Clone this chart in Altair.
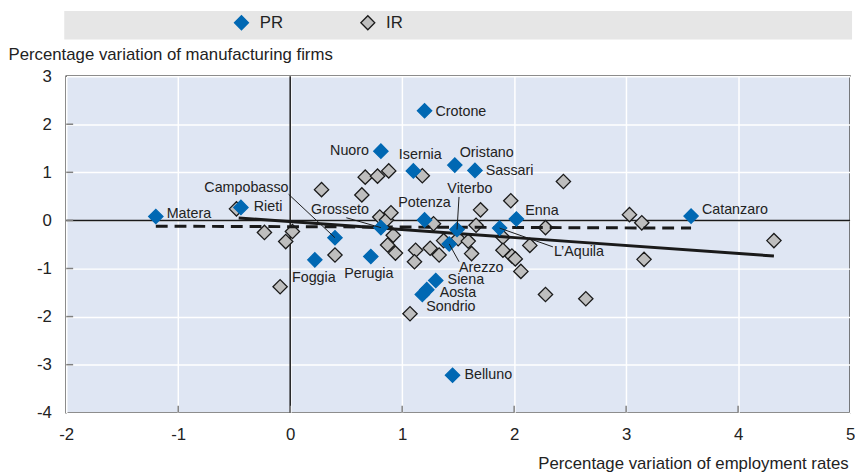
import altair as alt
import pandas as pd

# ---------------- data ----------------
pr_names = ["Matera", "Rieti", "Crotone", "Nuoro", "Isernia", "Oristano", "Sassari",
            "Potenza", "Viterbo", "Enna", "Catanzaro", "L’Aquila", "Arezzo", "Grosseto",
            "Campobasso", "Foggia", "Perugia", "Siena", "Aosta", "Sondrio", "Belluno"]
pr_x = [-1.20, -0.44, 1.20, 0.81, 1.10, 1.47, 1.65, 1.20, 1.49, 2.02, 3.58, 1.87, 1.42,
        0.81, 0.40, 0.22, 0.72, 1.30, 1.22, 1.18, 1.45]
pr_y = [0.08, 0.27, 2.28, 1.44, 1.03, 1.15, 1.04, 0.01, -0.19, 0.03, 0.09, -0.16, -0.49,
        -0.15, -0.36, -0.82, -0.75, -1.25, -1.44, -1.54, -3.22]

ir_x = [-0.48, 0.28, -0.23, 0.02, -0.04, 0.40, -0.09, 0.67, 0.78, 0.88, 0.64, 0.80, 0.86,
        0.90, 0.92, 0.87, 0.94, 1.18, 1.28, 1.12, 1.11, 1.25, 1.33, 1.37, 1.50, 1.70, 1.66,
        1.59, 1.62, 1.97, 1.90, 1.90, 1.98, 2.01, 2.06, 2.14, 2.28, 2.44, 2.28, 2.64, 3.03,
        3.14, 3.16, 4.32, 1.07]
ir_y = [0.24, 0.64, -0.25, -0.23, -0.44, -0.72, -1.38, 0.90, 0.92, 1.03, 0.53, 0.07, 0.01,
        0.16, -0.31, -0.51, -0.68, 0.93, -0.07, -0.62, -0.86, -0.58, -0.72, -0.42, -0.38,
        0.22, -0.10, -0.43, -0.69, 0.41, -0.35, -0.62, -0.74, -0.80, -1.06, -0.52, -0.15,
        0.81, -1.54, -1.63, 0.12, -0.05, -0.81, -0.42, -1.94]

# trend lines (end points)
ir_fit_x = [-0.46, 4.32]
ir_fit_y = [0.05, -0.74]
pr_fit_x = [-1.20, 3.58]
pr_fit_y = [-0.12, -0.16]

x_ticks = [-2, -1, 0, 1, 2, 3, 4, 5]
y_ticks = [-4, -3, -2, -1, 0, 1, 2, 3]
series = ["PR", "IR"]

# ---------------- layout / style ----------------
W, H = 794, 341
XMIN, XMAX, YMIN, YMAX = -2, 5, -4, 3
PXX = W / (XMAX - XMIN)
PXY = H / (YMAX - YMIN)
FONT = "Liberation Sans, Arial, sans-serif"
BLUE = "#0068B3"
GREY = "#BEBEBE"
BG = "#DFE6F3"
TXT = "#222222"

# label placement (pixel offsets from the point, alignment)
label_pos = {
    "Matera": (11, -3, "left"), "Rieti": (13, 0, "left"), "Crotone": (11, 1, "left"),
    "Nuoro": (-12, 0, "right"), "Isernia": (7, -16, "center"), "Oristano": (5, -12, "left"),
    "Sassari": (11, 1, "left"), "Potenza": (0, -17, "center"), "Viterbo": (13, -41, "center"),
    "Enna": (9, -8, "left"), "Catanzaro": (11, -6, "left"), "L’Aquila": (55, 24, "left"),
    "Arezzo": (10, 24, "left"), "Grosseto": (-12, -18, "right"),
    "Campobasso": (-47, -50, "right"), "Foggia": (-1, 18, "center"),
    "Perugia": (-2, 18, "center"), "Siena": (12, 0, "left"), "Aosta": (13, 3, "left"),
    "Sondrio": (4, 13, "left"), "Belluno": (12, 0, "left"),
}
leaders = {
    "Campobasso": (-47, -44), "Grosseto": (-35, -10), "Viterbo": (2, -33),
    "L’Aquila": (54, 19), "Arezzo": (10, 18),
}

pr = pd.DataFrame({"name": pr_names, "x": pr_x, "y": pr_y, "type": "PR"})
ir = pd.DataFrame({"x": ir_x, "y": ir_y, "type": "IR"})
lab = pr.copy()
lab["lx"] = [x + label_pos[n][0] / PXX for n, x in zip(pr_names, pr_x)]
lab["ly"] = [y - label_pos[n][1] / PXY for n, y in zip(pr_names, pr_y)]
lab["align"] = [label_pos[n][2] for n in pr_names]
lead = pr[pr["name"].isin(leaders.keys())].copy()
lead["x2"] = [x + leaders[n][0] / PXX for n, x in zip(lead["name"], lead["x"])]
lead["y2"] = [y - leaders[n][1] / PXY for n, y in zip(lead["name"], lead["y"])]
fits = pd.concat([
    pd.DataFrame({"x": ir_fit_x, "y": ir_fit_y, "fit": "IR"}),
    pd.DataFrame({"x": pr_fit_x, "y": pr_fit_y, "fit": "PR"}),
])

xs = alt.Scale(domain=[XMIN, XMAX], nice=False, zero=False)
ys = alt.Scale(domain=[YMIN, YMAX], nice=False, zero=False)

X = alt.X("x:Q", scale=xs, axis=alt.Axis(
    values=x_ticks, grid=True, gridColor="white", gridWidth=1.5, ticks=False,
    domain=False, labelFont=FONT, labelFontSize=17, labelColor=TXT, labelPadding=14,
    labelExpr="'' + datum.value", labelFlush=False, labelOverlap=False,
    title="Percentage variation of employment rates", titleFont=FONT,
    titleFontSize=17, titleFontWeight="normal", titleColor=TXT, titleAlign="right",
    titleX=W - 2, titleY=51, titleBaseline="middle", titleAnchor="end"))
Y = alt.Y("y:Q", scale=ys, axis=alt.Axis(
    values=y_ticks, grid=True, gridColor="white", gridWidth=1.5, ticks=False,
    domain=False, labelFont=FONT, labelFontSize=17, labelColor=TXT, labelPadding=15,
    labelExpr="'' + datum.value", labelFlush=False, labelOverlap=False,
    title="Percentage variation of manufacturing firms", titleFont=FONT,
    titleFontSize=17, titleFontWeight="normal", titleColor=TXT, titleAngle=0,
    titleAlign="left", titleBaseline="middle", titleX=-59, titleY=-22, titleAnchor="start"))

fill_scale = alt.Scale(domain=series, range=[BLUE, GREY])
stroke_scale = alt.Scale(domain=series, range=[BLUE, "#1a1a1a"])
legend = alt.Legend(orient="none", legendX=169, legendY=-63, direction="horizontal",
                    title=None, symbolType="diamond", symbolSize=200, symbolStrokeWidth=1.3,
                    labelFont=FONT, labelFontSize=17, labelColor=TXT, labelOffset=10,
                    columnPadding=75, padding=0)

band = alt.Chart(pd.DataFrame({"k": [0]})).mark_rect(color="#E6E6E6").encode(
    x=alt.value(-2), x2=alt.value(W + 2), y=alt.value(-66), y2=alt.value(-37))

zero_v = alt.Chart(pd.DataFrame({"x": [0]})).mark_rule(color="#1a1a1a", strokeWidth=1.5).encode(x=X)
zero_h = alt.Chart(pd.DataFrame({"y": [0]})).mark_rule(color="#1a1a1a", strokeWidth=1.5).encode(y=Y)

yt = alt.Chart(pd.DataFrame({"y": y_ticks[1:-1]})).mark_rule(color="#808080", strokeWidth=1.5).encode(
    y=alt.Y("y:Q", scale=ys), x=alt.value(0), x2=alt.value(7))
xt = alt.Chart(pd.DataFrame({"x": x_ticks[1:-1]})).mark_rule(color="#808080", strokeWidth=1.5).encode(
    x=alt.X("x:Q", scale=xs), y=alt.value(H), y2=alt.value(H - 7))


def pts(df):
    return alt.Chart(df).mark_point(shape="diamond", filled=True, size=210, strokeWidth=1.3,
                                    opacity=1).encode(
        x=X, y=Y,
        fill=alt.Fill("type:N", scale=fill_scale, legend=legend),
        stroke=alt.Stroke("type:N", scale=stroke_scale, legend=legend))


ir_pts = pts(ir)
pr_pts = pts(pr)

ir_line = alt.Chart(fits[fits["fit"] == "IR"]).mark_line(color="#1a1a1a", strokeWidth=3).encode(
    x=alt.X("x:Q", scale=xs), y=alt.Y("y:Q", scale=ys))
pr_line = alt.Chart(fits[fits["fit"] == "PR"]).mark_line(
    color="#1a1a1a", strokeWidth=3, strokeDash=[12, 7]).encode(
    x=alt.X("x:Q", scale=xs), y=alt.Y("y:Q", scale=ys))

lead_l = alt.Chart(lead).mark_rule(color="#1a1a1a", strokeWidth=1).encode(
    x=alt.X("x:Q", scale=xs), y=alt.Y("y:Q", scale=ys), x2="x2:Q", y2="y2:Q")

texts = []
for a in ["left", "center", "right"]:
    texts.append(alt.Chart(lab[lab["align"] == a]).mark_text(
        align=a, baseline="middle", font=FONT, fontSize=14.5, color=TXT).encode(
        x=alt.X("lx:Q", scale=xs), y=alt.Y("ly:Q", scale=ys), text="name:N"))

chart = alt.layer(band, zero_v, zero_h, yt, xt, ir_pts, ir_line, pr_line, pr_pts, lead_l,
                  *texts).properties(
    width=W, height=H, padding=0
).configure_view(fill=BG, stroke="#1a1a1a", strokeWidth=1.5)

chart.save("out.html", embed_options={"renderer": "svg", "actions": False})
